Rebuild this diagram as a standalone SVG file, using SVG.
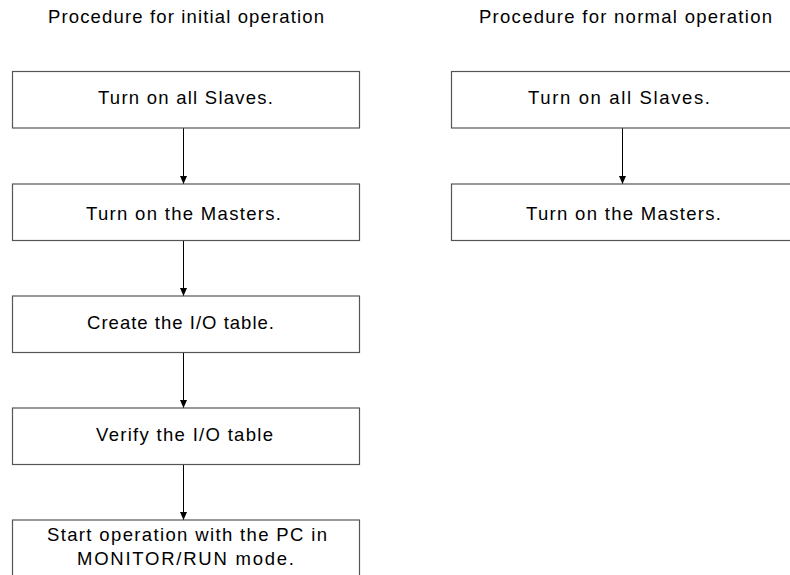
<svg xmlns="http://www.w3.org/2000/svg" width="790" height="575" viewBox="0 0 790 575">
<defs>
<marker id="arr" markerWidth="10" markerHeight="10" refX="8" refY="3.5" orient="auto" markerUnits="userSpaceOnUse">
<path d="M0,0 L8,3.5 L0,7 Z" fill="#000"/>
</marker>
<style>
.box{fill:#fff;stroke:#555;stroke-width:1.2}
.t{font-family:"Liberation Sans",Arial,sans-serif;font-size:18.5px;fill:#000}
.h{font-size:18.5px}
.c{stroke:#000;stroke-width:1;fill:none}
</style>
</defs>
<rect width="790" height="575" fill="#fff"/>
<text class="t h" x="48" y="22.5" textLength="276" lengthAdjust="spacing">Procedure for initial operation</text>
<text class="t h" x="479" y="22.5" textLength="293" lengthAdjust="spacing">Procedure for normal operation</text>
<g id="connectors">
<line class="c" x1="183.5" y1="128" x2="183.5" y2="184" marker-end="url(#arr)"/>
<line class="c" x1="183.5" y1="240" x2="183.5" y2="296" marker-end="url(#arr)"/>
<line class="c" x1="183.5" y1="352" x2="183.5" y2="408" marker-end="url(#arr)"/>
<line class="c" x1="183.5" y1="464" x2="183.5" y2="520" marker-end="url(#arr)"/>
<line class="c" x1="622.5" y1="128" x2="622.5" y2="184" marker-end="url(#arr)"/>
</g>
<g id="n1"><rect class="box" x="12.5" y="71.5" width="347" height="56.5"/><text class="t" x="98" y="103.5" textLength="175" lengthAdjust="spacing">Turn on all Slaves.</text></g>
<g id="n2"><rect class="box" x="12.5" y="184" width="347" height="56.5"/><text class="t" x="86" y="219.5" textLength="195" lengthAdjust="spacing">Turn on the Masters.</text></g>
<g id="n3"><rect class="box" x="12.5" y="296" width="347" height="56.5"/><text class="t" x="87" y="328.5" textLength="187" lengthAdjust="spacing">Create the I/O table.</text></g>
<g id="n4"><rect class="box" x="12.5" y="408" width="347" height="56.5"/><text class="t" x="96" y="440.5" textLength="177" lengthAdjust="spacing">Verify the I/O table</text></g>
<g id="n5"><rect class="box" x="12.5" y="520" width="347" height="80"/><text class="t" x="47" y="541" textLength="280" lengthAdjust="spacing">Start operation with the PC in</text><text class="t" x="77" y="565" textLength="217" lengthAdjust="spacing">MONITOR/RUN mode.</text></g>
<g id="r1"><rect class="box" x="451.5" y="71.5" width="347" height="56.5"/><text class="t" x="528" y="103.5" textLength="182" lengthAdjust="spacing">Turn on all Slaves.</text></g>
<g id="r2"><rect class="box" x="451.5" y="184" width="347" height="56.5"/><text class="t" x="526" y="219.5" textLength="195" lengthAdjust="spacing">Turn on the Masters.</text></g>
</svg>
